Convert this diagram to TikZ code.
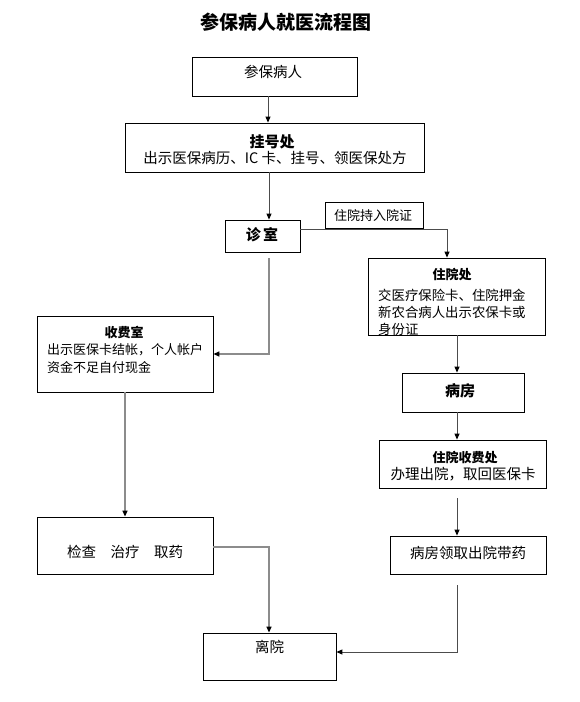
\documentclass[tikz,border=0pt]{standalone}
\usepackage{fontspec}
\setmainfont{Noto Sans CJK SC}
\usetikzlibrary{arrows.meta,calc}
\tikzset{
  box/.style={draw=black, line width=0.8pt, inner sep=0pt, fill=white},
  conn/.style={draw=black!70, line width=1pt, -{Triangle[length=6pt,width=5pt,black]}},
  conng/.style={draw=black!45, line width=1.4pt, -{Triangle[length=6pt,width=5pt,black]}},
  t/.style={inner sep=0pt, font=\fontsize{14.5}{16}\selectfont},
  tm/.style={inner sep=0pt, font=\fontsize{13.4}{15}\selectfont},
  ts/.style={inner sep=0pt, font=\fontsize{13}{15}\selectfont},
  tb/.style={inner sep=0pt, font=\fontsize{15}{17}\selectfont\bfseries},
  tbs/.style={inner sep=0pt, font=\fontsize{13}{15}\selectfont\bfseries},
}
\begin{document}
\begin{tikzpicture}[x=1pt,y=-1pt]
\useasboundingbox (0,0) rectangle (580,702);
% title
\node[inner sep=0pt, font=\fontsize{19}{21}\selectfont\bfseries] (title) at (286,22) {参保病人就医流程图};
% boxes
\node[box, minimum width=165, minimum height=39] (A) at (274.5,76.5) {};
\node[box, minimum width=299, minimum height=49] (B) at (274.5,147.5) {};
\node[box, minimum width=75, minimum height=32] (zs) at (262.5,236) {};
\node[box, minimum width=98, minimum height=26] (lab) at (374,215) {};
\node[box, minimum width=177, minimum height=77] (zyc) at (456.5,296.5) {};
\node[box, minimum width=176, minimum height=76] (sfs) at (125,354) {};
\node[box, minimum width=122, minimum height=39] (bf) at (463,392.5) {};
\node[box, minimum width=167, minimum height=48] (zsf) at (462.5,464) {};
\node[box, minimum width=176, minimum height=57] (jc) at (125,545.5) {};
\node[box, minimum width=156, minimum height=38] (lq) at (468,555) {};
\node[box, minimum width=133, minimum height=47] (ly) at (269.5,656.5) {};
% texts
\node[t] (At) at (273,72) {参保病人};
\node[tb] (Bt1) at (272,142) {挂号处};
\node[t] (Bt2) at (275,158) {出示医保病历、IC 卡、挂号、领医保处方};
\node[tb] (zst) at (262,235) {诊\,室};
\node[ts] (labt) at (373,215) {住院持入院证};
\node[tbs] (zyct1) at (452,275) {住院处};
\node[tm, anchor=west] (zyct2) at (378,295) {交医疗保险卡、住院押金};
\node[tm, anchor=west] (zyct3) at (378,312) {新农合病人出示农保卡或};
\node[tm, anchor=west] (zyct4) at (378,329) {身份证};
\node[tbs] (sfst1) at (124,332) {收费室};
\node[ts, anchor=west] (sfst2) at (47,350) {出示医保卡结帐，个人帐户};
\node[ts, anchor=west] (sfst3) at (47,368) {资金不足自付现金};
\node[tb] (bft) at (460,391) {病房};
\node[tbs] (zsft1) at (465,458) {住院收费处};
\node[t] (zsft2) at (463,474) {办理出院，取回医保卡};
\node[t] (jct) at (125,552) {检查\quad 治疗\quad 取药};
\node[t] (lqt) at (468,553) {病房领取出院带药};
\node[t] (lyt) at (269.5,647) {离院};
% helper coordinates
\coordinate (c1) at (268,0);
\coordinate (c2) at (269,0);
\coordinate (c3a) at (0,229);
\coordinate (c3b) at (447,0);
\coordinate (c4) at (269,258);
\coordinate (c5) at (457,0);
\coordinate (c7) at (457,498);
\coordinate (c8) at (125,0);
\coordinate (c9) at (0,547);
\coordinate (c10) at (457,585);
\coordinate (c10b) at (0,652);
% connectors
\draw[conn] (A.south -| c1) -- (B.north -| c1);
\draw[conn] (B.south -| c2) -- (zs.north -| c2);
\draw[conn] (zs.east |- c3a) -| (zyc.north -| c3b);
\draw[conng] (c4) |- (sfs.east);
\draw[conn] (zyc.south -| c5) -- (bf.north -| c5);
\draw[conn] (bf.south -| c5) -- (zsf.north -| c5);
\draw[conn] (c7) -- (lq.north -| c5);
\draw[conng] (sfs.south -| c8) -- (jc.north -| c8);
\draw[conng] (jc.east |- c9) -| (ly.north -| c2);
\draw[conn] (c10) |- (ly.east |- c10b);
\end{tikzpicture}
\end{document}
